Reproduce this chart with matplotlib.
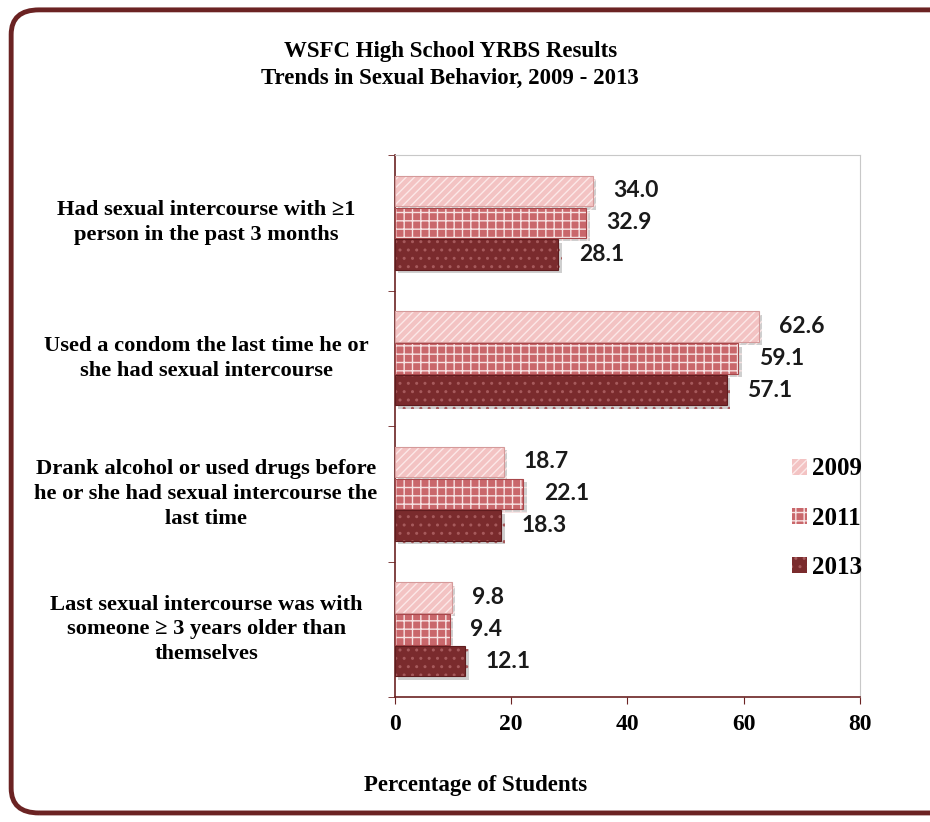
import matplotlib
matplotlib.use("Agg")
import matplotlib.pyplot as plt
import matplotlib.patheffects as pe
from matplotlib.patches import FancyBboxPatch, Patch
import numpy as np

categories = [
    "Had sexual intercourse with \u22651\nperson in the past 3 months",
    "Used a condom the last time he or\nshe had sexual intercourse",
    "Drank alcohol or used drugs before\nhe or she had sexual intercourse the\nlast time",
    "Last sexual intercourse was with\nsomeone \u2265 3 years older than\nthemselves",
]
years = ["2009", "2011", "2013"]
v2009 = [34.0, 62.6, 18.7, 9.8]
v2011 = [32.9, 59.1, 22.1, 9.4]
v2013 = [28.1, 57.1, 18.3, 12.1]
series = [v2009, v2011, v2013]

fills = ["#F3C3C3", "#C9676B", "#7A2B2D"]
hatch_cols = ["#FCE8E8", "#F7E3E3", "#A65A5C"]
hatches = ["////", "++", ".."]
outline = ["#D59A9A", "#A8474B", "#5E1C1E"]

serif = "Liberation Serif"
sans = "Lato"

fig = plt.figure(figsize=(9.3, 8.22), dpi=100)
fig.patch.set_facecolor("white")

frame = FancyBboxPatch((0.012, 0.011), 1.2, 0.977,
                       boxstyle="round,pad=0,rounding_size=0.03",
                       transform=fig.transFigure, facecolor="none",
                       edgecolor="#6B2323", linewidth=3.5, zorder=0)
fig.patches.append(frame)

ax = fig.add_axes([0.4247, 0.152, 0.5, 0.6594])
ypos = np.arange(len(categories))
offsets = [-0.235, 0.0, 0.235]
h = 0.225
for i, vals in enumerate(series):
    ax.barh(ypos + offsets[i], vals, height=h, color=fills[i],
            edgecolor=hatch_cols[i], linewidth=0, hatch=hatches[i], zorder=3,
            path_effects=[pe.SimplePatchShadow(offset=(2.5, -2.5), alpha=0.35, shadow_rgbFace="#777777"), pe.Normal()])
    ax.barh(ypos + offsets[i], vals, height=h, fill=False,
            edgecolor=outline[i], linewidth=0.8, zorder=4)
    for y, v in zip(ypos + offsets[i], vals):
        ax.text(v + 3.5, y, f"{v:.1f}", va="center", ha="left",
                fontsize=16.5, fontweight="bold", family=sans, color="#1a1a1a")

ax.set_xlim(0, 80)
ax.set_ylim(3.5, -0.5)
ax.set_xticks([0, 20, 40, 60, 80])
ax.set_xticklabels(["0", "20", "40", "60", "80"], fontsize=17, fontweight="bold", family=serif)
ax.set_yticks(ypos)
ax.set_yticklabels([])
ax.tick_params(axis="y", which="major", length=0)
ax.set_yticks([-0.5, 0.5, 1.5, 2.5, 3.5], minor=True)
ax.tick_params(axis="y", which="minor", length=5, color="#6B2323", direction="out")
ax.tick_params(axis="x", length=5, color="#6B2323", direction="out", pad=7)
for s in ["left", "bottom"]:
    ax.spines[s].set_color("#6B2323")
    ax.spines[s].set_linewidth(1.2)
for s in ["top", "right"]:
    ax.spines[s].set_color("#C8C8C8")
    ax.spines[s].set_linewidth(0.8)

for y, c in zip(ypos, categories):
    ax.text(-32.5, y, c, ha="center", va="center",
            fontsize=16.2, fontweight="bold", family=serif, linespacing=1.32,
            transform=ax.transData)

fig.text(0.511, 0.045, "Percentage of Students", ha="center", va="center",
         fontsize=16.5, fontweight="bold", family=serif)

fig.text(0.484, 0.921, "WSFC High School YRBS Results\nTrends in Sexual Behavior, 2009 - 2013",
         ha="center", va="center", fontsize=16.5, fontweight="bold", family=serif, linespacing=1.35)

handles = [Patch(facecolor=fills[i], edgecolor=hatch_cols[i], hatch=hatches[i], linewidth=0) for i in range(3)]
leg = ax.legend(handles, years, loc="center left", bbox_to_anchor=(0.805, 0.33),
                frameon=False, prop={"family": serif, "weight": "bold", "size": 18},
                handlelength=0.6, handleheight=0.6, handletextpad=0.2, labelspacing=1.05)

fig.savefig("out.png", dpi=100, facecolor="white")
